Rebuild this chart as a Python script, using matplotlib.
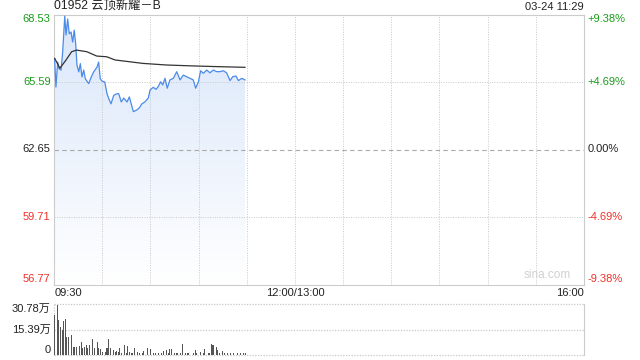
import numpy as np
import matplotlib
matplotlib.use('Agg')
import matplotlib.pyplot as plt
from matplotlib.patches import Polygon

plt.rcParams['font.family'] = ['Liberation Sans', 'Noto Sans CJK SC', 'DejaVu Sans']

# price line, minutes after 09:30
price_t = [0.4, 1.2, 2.3, 3.1, 4.4, 5.4, 6.7, 7.5, 8.5, 9.5, 10.6, 11.6, 12.6, 13.5, 14.3,
           15.4, 16.4, 17.4, 18.5, 19.5, 21.6, 23.2, 24.7, 26.8, 27.8, 28.8, 29.9, 31.6,
           33.0, 34.4, 35.5, 37.2, 39.2, 40.3, 41.9, 43.4, 45.5, 46.9, 49.4, 51.5, 53.1,
           54.6, 56.7, 58.7, 59.8, 61.8, 63.5, 64.9, 66.4, 67.7, 69.1, 70.5, 72.2, 74.3,
           76.4, 78.5, 80.5, 82.6, 84.7, 86.7, 88.2, 89.9, 91.3, 93.0, 95.1, 97.1, 99.2,
           101.3, 103.4, 105.4, 107.5, 109.6, 111.3, 113.3, 114.8, 116.9, 118.9]
price = [66.60, 65.37, 66.46, 66.17, 66.11, 66.90, 68.46, 67.64, 68.33, 67.69, 67.77, 67.33,
         67.85, 67.26, 66.33, 66.03, 66.39, 65.81, 66.11, 65.73, 65.52, 65.81, 66.03, 66.24,
         66.46, 65.73, 65.63, 65.59, 65.08, 64.81, 64.64, 65.01, 65.08, 65.08, 64.72, 64.89,
         64.72, 64.94, 64.30, 64.37, 64.46, 64.63, 64.73, 64.89, 65.24, 65.36, 65.27, 65.39,
         65.60, 65.46, 65.75, 65.32, 65.68, 65.75, 66.04, 65.68, 65.89, 65.82, 65.75, 65.68,
         65.32, 65.60, 66.08, 65.97, 66.11, 65.99, 66.11, 66.04, 66.04, 66.08, 65.99, 65.65,
         65.82, 65.85, 65.65, 65.75, 65.68]

# average price line
avg_t = [0.4, 3.7, 7.5, 11.0, 14.1, 20.4, 26.6, 32.8, 38.0, 47.3, 55.4, 70.2, 86.6, 101.3, 118.9]
avg_price = [66.62, 66.19, 66.55, 66.91, 66.98, 66.91, 66.72, 66.69, 66.55, 66.47, 66.40,
             66.33, 66.29, 66.26, 66.23]

# volume bars (万)
vol_t = [0, 2, 3, 4, 5, 6, 7, 8, 9, 11, 12, 13, 14, 16, 17, 18, 19, 20, 21, 22, 24, 25, 27,
         28, 29, 30, 32, 33, 34, 35, 37, 38, 39, 40, 41, 42, 44, 45, 46, 47, 48, 49, 50, 52,
         53, 55, 56, 58, 60, 62, 63, 65, 67, 68, 70, 71, 72, 73, 75, 76, 77, 79, 80, 82, 83,
         84, 87, 88, 89, 91, 93, 94, 96, 97, 98, 99, 101, 102, 103, 105, 106, 108, 110, 112,
         114, 116, 118, 119]
vol = [24.3, 30.4, 21.3, 17.2, 15.2, 20.3, 21.9, 11.1, 11.1, 12.2, 5.1, 5.1, 5.1, 5.5, 8.1,
       4.1, 5.1, 6.1, 4.1, 6.1, 9.7, 4.5, 8.1, 4.5, 3.6, 2.0, 2.0, 4.1, 9.7, 4.1, 3.0, 2.0,
       2.4, 2.0, 4.5, 1.0, 6.1, 1.0, 5.5, 2.0, 1.0, 1.0, 4.5, 2.0, 1.5, 1.0, 2.4, 4.1, 3.6,
       1.0, 1.5, 1.0, 1.5, 2.4, 3.0, 1.0, 3.6, 3.6, 1.0, 1.5, 1.0, 1.5, 6.5, 1.0, 1.0, 1.0,
       1.0, 3.0, 1.0, 2.0, 1.0, 3.6, 1.0, 1.0, 6.5, 6.1, 4.7, 3.0, 1.0, 2.4, 1.0, 1.0, 1.5,
       1.0, 1.0, 1.0, 1.0, 1.0]

prev_close = 62.65
price_ticks = [56.77, 59.71, 62.65, 65.59, 68.53]
pct_labels = ['-9.38%', '-4.69%', '0.00%', '+4.69%', '+9.38%']
vol_ticks = [0, 15.39, 30.78]
vol_labels = ['0', '15.39万', '30.78万']

GREEN = '#1a9c1a'
RED = '#f0302a'
DARK = '#222222'
GRID = '#c8c8c8'
tick_colors = [RED, RED, DARK, GREEN, GREEN]
FS = 8


def edge_va(val, ticks):
    # labels at the top/bottom edges sit inside the plot area
    if val == ticks[-1]:
        return 'top'
    if val == ticks[0]:
        return 'bottom'
    return 'center'


fig = plt.figure(figsize=(6.4, 3.6), dpi=100)
ax = fig.add_axes([54 / 640, 1 - 284.5 / 360, 530 / 640, 270 / 360])
axv = fig.add_axes([54 / 640, 1 - 355 / 360, 530 / 640, 51 / 360])

# main chart
ax.set_xlim(0, 330)
ax.set_ylim(56.77, 68.53)
for x in np.arange(30, 330, 30):
    ax.axvline(x, color=GRID, lw=0.7, ls=(0, (1, 1.5)))
for y in [59.71, 65.59]:
    ax.axhline(y, color=GRID, lw=0.7, ls=(0, (1, 1.5)))
ax.axhline(prev_close, color='#aaaaaa', lw=0.8, ls=(0, (4, 3)))

# gradient fill under the price line
grad = np.linspace(0, 1, 256).reshape(-1, 1)
cmap = matplotlib.colors.LinearSegmentedColormap.from_list('g', ['#ffffff', '#d9e6fa'])
img = ax.imshow(grad, extent=[0, 330, 56.77, 68.53], origin='lower', aspect='auto',
                cmap=cmap, zorder=1)
verts = list(zip(price_t, price)) + [(price_t[-1], 56.77), (price_t[0], 56.77)]
poly = Polygon(verts, closed=True, facecolor='none', edgecolor='none')
ax.add_patch(poly)
img.set_clip_path(poly)

ax.plot(price_t, price, color='#4b8be8', lw=0.9, zorder=3)
ax.plot(avg_t, avg_price, color='#333333', lw=0.9, zorder=4)

ax.set_xticks([])
ax.set_yticks([])
for s in ax.spines.values():
    s.set_color('#cccccc')
    s.set_linewidth(0.8)

for val, lab, c in zip(price_ticks, pct_labels, tick_colors):
    va = edge_va(val, price_ticks)
    ax.annotate(f'{val:.2f}', xy=(0, val), xycoords=('axes fraction', 'data'),
                xytext=(-2.5, 0), textcoords='offset points', ha='right', va=va,
                fontsize=FS, color=c)
    ax.annotate(lab, xy=(1, val), xycoords=('axes fraction', 'data'),
                xytext=(2.5, 0), textcoords='offset points', ha='left', va=va,
                fontsize=FS, color=c)

ax.text(0, 1.01, '01952 云顶新耀－B', transform=ax.transAxes, ha='left', va='bottom',
        fontsize=8.8, color=DARK)
ax.text(1, 1.01, '03-24 11:29', transform=ax.transAxes, ha='right', va='bottom',
        fontsize=FS, color=DARK)
ax.text(0.975, 0.012, 'sina.com', transform=ax.transAxes, ha='right', va='bottom',
        fontsize=8.5, color='#d0d0d0')

ax.text(0.002, -0.012, '09:30', transform=ax.transAxes, ha='left', va='top', fontsize=FS, color=DARK)
ax.text(150 / 330, -0.012, '12:00/13:00', transform=ax.transAxes, ha='center', va='top',
        fontsize=FS, color=DARK)
ax.text(1, -0.012, '16:00', transform=ax.transAxes, ha='right', va='top', fontsize=FS, color=DARK)

# volume chart
axv.set_xlim(0, 330)
axv.set_ylim(0, 30.78)
axv.bar(vol_t, vol, width=0.65, color='#555555', zorder=3)
for y in vol_ticks:
    axv.axhline(y, color=GRID, lw=0.9, ls=(0, (1, 1.2)), clip_on=False)
axv.axvline(0, color=GRID, lw=0.9, ls=(0, (1, 1.2)), clip_on=False)
axv.set_xticks([])
axv.set_yticks([])
for k in ['top', 'left', 'bottom']:
    axv.spines[k].set_visible(False)
axv.spines['right'].set_color('#cccccc')
axv.spines['right'].set_linewidth(0.8)
for val, lab in zip(vol_ticks, vol_labels):
    axv.annotate(lab, xy=(0, val), xycoords=('axes fraction', 'data'),
                 xytext=(-2.5, 0), textcoords='offset points', ha='right',
                 va=edge_va(val, vol_ticks), fontsize=FS, color=DARK)

fig.savefig('out.png', dpi=100)
